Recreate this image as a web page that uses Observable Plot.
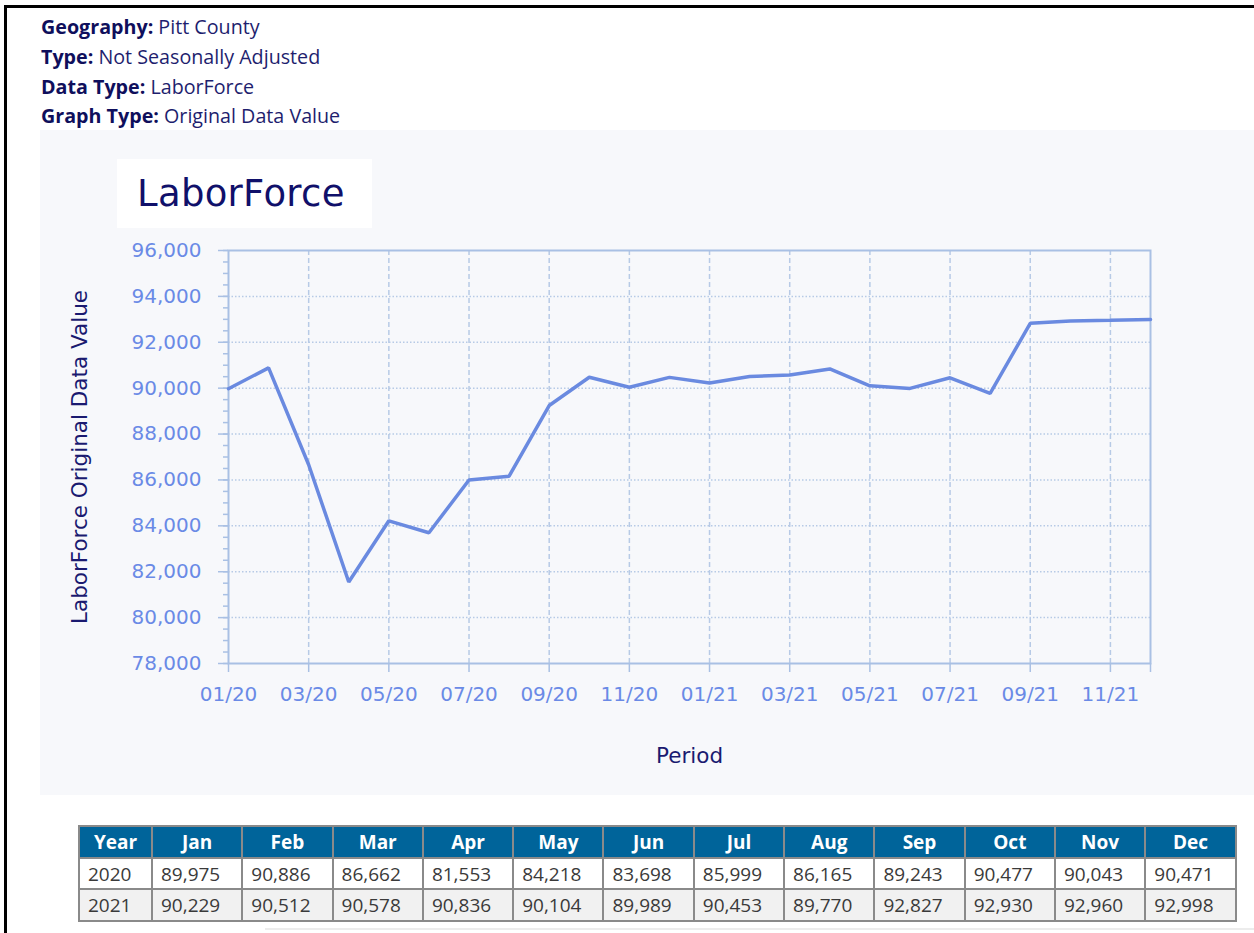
<!DOCTYPE html>
<html>
<head>
<meta charset="utf-8">
<script src="https://cdn.jsdelivr.net/npm/d3@7"></script>
<script src="https://cdn.jsdelivr.net/npm/@observablehq/plot@0.6"></script>
<style>
  html, body { margin: 0; padding: 0; background: #fff; }
  body { width: 1254px; height: 933px; position: relative; overflow: hidden; font-family: "Open Sans", "Noto Sans", sans-serif; }
  #frame { position: absolute; left: 4px; top: 5px; right: -10px; bottom: -10px; border-left: 3px solid #000; border-top: 3px solid #000; }
  #meta { position: absolute; left: 41px; top: 12px; font-size: 19.7px; line-height: 29.8px; color: #1e1e6e; }
  #meta b { color: #0f0f5c; }
  #panel { position: absolute; left: 40px; top: 130px; width: 1214px; height: 665px; background: #f7f8fb; }
  #titlebox { position: absolute; left: 117px; top: 159px; width: 255px; height: 69px; background: #fff;
    font-family: "DejaVu Sans", sans-serif; font-size: 37px; color: #10106a; line-height: 69px; box-sizing: border-box; padding-left: 20px; letter-spacing: 0.3px; }
  #chart { position: absolute; left: 40px; top: 130px; }
  #tbl { position: absolute; left: 78px; top: 825px; border-collapse: collapse; font-family: "Open Sans", "Noto Sans", sans-serif; font-size: 19px; }
  #tbl th, #tbl td { border: 2px solid #8a8a8a; padding: 0 4px 0 8px; height: 31px; box-sizing: border-box; white-space: nowrap; }
  #tbl th { background: #00649a; color: #fff; font-weight: 700; text-align: center; height: 32px; padding: 0 4px; }
  #tbl td { color: #3a3a3a; text-align: left; background: #fff; }
  #tbl tr.alt td { background: #f1f1f1; height: 32px; }
  #bottomline { position: absolute; left: 265px; top: 928px; width: 989px; height: 2px; background: #ececec; }
</style>
</head>
<body>
<div id="frame"></div>
<div id="meta">
  <div><b>Geography:</b> Pitt County</div>
  <div><b>Type:</b> Not Seasonally Adjusted</div>
  <div><b>Data Type:</b> LaborForce</div>
  <div><b>Graph Type:</b> Original Data Value</div>
</div>
<div id="panel"></div>
<div id="chart"></div>
<div id="titlebox">LaborForce</div>
<table id="tbl"></table>
<div id="bottomline"></div>
<script>
// ---- Data ----
const years = [2020, 2021];
const months = ["Jan","Feb","Mar","Apr","May","Jun","Jul","Aug","Sep","Oct","Nov","Dec"];
const laborForce2020 = [89975, 90886, 86662, 81553, 84218, 83698, 85999, 86165, 89243, 90477, 90043, 90471];
const laborForce2021 = [90229, 90512, 90578, 90836, 90104, 89989, 90453, 89770, 92827, 92930, 92960, 92998];
const xTickLabels = ["01/20","03/20","05/20","07/20","09/20","11/20","01/21","03/21","05/21","07/21","09/21","11/21"];
const yTicks = [78000, 80000, 82000, 84000, 86000, 88000, 90000, 92000, 94000, 96000];
const chartTitle = "LaborForce";
const yTitle = "LaborForce Original Data Value";
const xTitle = "Period";

const seriesByYear = [laborForce2020, laborForce2021];
const data = [];
seriesByYear.forEach((vals, yi) => vals.forEach((v, mi) => data.push({i: yi * 12 + mi, value: v})));

const lineColor = "#6a8ae0";
const tickColor = "#6a8ae6";
const axisColor = "#a9c0e4";
const gridColor = "#b7cae6";
const navy = "#1a1a70";

const nMonths = data.length;
const xTickPos = d3.range(0, nMonths, 2);
const xTickAll = [...xTickPos, nMonths - 1];
const yMinor = d3.range(78000, 96001, 500);

const W = 1214, H = 665;
const chart = Plot.plot({
  width: W,
  height: H,
  marginLeft: 188,
  marginRight: 104,
  marginTop: 120,
  marginBottom: 132,
  style: {background: "transparent", fontFamily: "DejaVu Sans, sans-serif", fontSize: "20px", overflow: "visible"},
  x: {type: "linear", domain: [0, nMonths - 1]},
  y: {domain: [78000, 96000]},
  marks: [
    Plot.gridY(yTicks.slice(1, -1), {stroke: gridColor, strokeOpacity: 1, strokeWidth: 1.5, strokeDasharray: "1.5,2"}),
    Plot.gridX(xTickPos.slice(1), {stroke: gridColor, strokeOpacity: 1, strokeWidth: 1.5, strokeDasharray: "5,3"}),
    Plot.frame({stroke: axisColor, strokeWidth: 2}),
    Plot.axisY(yMinor, {anchor: "left", tickSize: 5, stroke: axisColor, strokeWidth: 1.5, tickFormat: () => "", label: null}),
    Plot.axisY(yTicks, {anchor: "left", tickSize: 10, tickPadding: 17, stroke: axisColor, strokeWidth: 1.5, fill: tickColor,
      tickFormat: d3.format(","), fontSize: 20, label: null}),
    Plot.axisX(xTickAll, {anchor: "bottom", tickSize: 9, tickPadding: 14, stroke: axisColor, strokeWidth: 1.5, fill: tickColor,
      tickFormat: d => (d % 2 === 0 ? xTickLabels[d / 2] : ""), fontSize: 20, label: null}),
    Plot.lineY(data, {x: "i", y: "value", stroke: lineColor, strokeWidth: 3.5, strokeLinejoin: "miter"}),
    Plot.text([yTitle], {frameAnchor: "left", textAnchor: "middle", dx: -148, rotate: -90, fill: navy, fontSize: 21.5}),
    Plot.text([xTitle], {frameAnchor: "bottom", textAnchor: "middle", dy: 99, fill: navy, fontSize: 21.5})
  ]
});
document.getElementById("chart").appendChild(chart);
document.getElementById("titlebox").textContent = chartTitle;

// ---- Table ----
const tbl = document.getElementById("tbl");
const colWidths = [73, ...months.map(() => 90.3)];
const head = document.createElement("tr");
["Year", ...months].forEach((h, k) => {
  const th = document.createElement("th");
  th.textContent = h;
  th.style.width = colWidths[k] + "px";
  head.appendChild(th);
});
tbl.appendChild(head);
const fmt = d3.format(",");
years.forEach((yr, yi) => {
  const tr = document.createElement("tr");
  if (yi % 2 === 1) tr.className = "alt";
  const c0 = document.createElement("td");
  c0.textContent = yr;
  tr.appendChild(c0);
  seriesByYear[yi].forEach(v => {
    const td = document.createElement("td");
    td.textContent = fmt(v);
    tr.appendChild(td);
  });
  tbl.appendChild(tr);
});
</script>
</body>
</html>
